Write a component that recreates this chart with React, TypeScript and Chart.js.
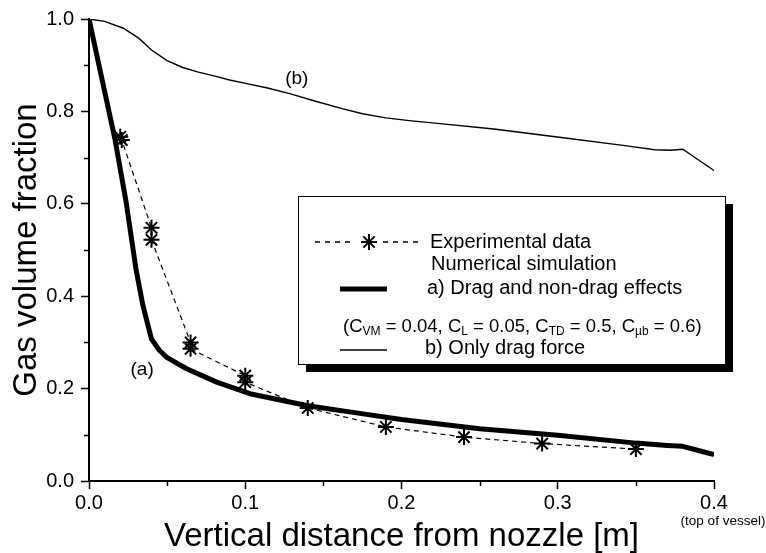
import React, { useEffect, useRef } from "react";
import { Chart, registerables } from "chart.js";

Chart.register(...registerables);

// ---- Data ----
const xTicks = [0, 0.1, 0.2, 0.3, 0.4];
const xTickLabels = ["0.0", "0.1", "0.2", "0.3", "0.4"];
const xMinorTicks = [0.05, 0.15, 0.25, 0.35];
const yTicks = [0, 0.2, 0.4, 0.6, 0.8, 1.0];
const yTickLabels = ["0.0", "0.2", "0.4", "0.6", "0.8", "1.0"];
const yMinorTicks = [0.1, 0.3, 0.5, 0.7, 0.9];

// (a) Drag and non-drag effects (thick line)
const xA = [0, 0.0083, 0.0166, 0.0237, 0.030, 0.0345, 0.040, 0.045, 0.050, 0.0625, 0.0817, 0.103, 0.12, 0.14, 0.17, 0.20, 0.25, 0.30, 0.35, 0.37, 0.38, 0.39, 0.40];
const yA = [1.0, 0.87, 0.74, 0.605, 0.46, 0.38, 0.307, 0.283, 0.267, 0.243, 0.214, 0.189, 0.177, 0.163, 0.148, 0.133, 0.113, 0.099, 0.082, 0.077, 0.075, 0.066, 0.057];

// (b) Only drag force (thin line)
const xB = [0, 0.01, 0.022, 0.032, 0.040, 0.05, 0.06, 0.07, 0.08, 0.09, 0.101, 0.115, 0.129, 0.145, 0.162, 0.175, 0.19, 0.205, 0.223, 0.259, 0.301, 0.343, 0.362, 0.372, 0.38, 0.40];
const yB = [1.0, 0.995, 0.98, 0.958, 0.933, 0.91, 0.895, 0.885, 0.877, 0.868, 0.86, 0.85, 0.838, 0.822, 0.806, 0.795, 0.786, 0.78, 0.774, 0.762, 0.744, 0.726, 0.717, 0.716, 0.718, 0.672];

// Experimental data
const xExp = [0.02, 0.021, 0.04, 0.04, 0.065, 0.065, 0.1, 0.1, 0.14, 0.19, 0.24, 0.29, 0.35];
const yExp = [0.745, 0.738, 0.548, 0.522, 0.3, 0.286, 0.228, 0.214, 0.158, 0.117, 0.095, 0.081, 0.069];

const xTitle = "Vertical distance from nozzle [m]";
const yTitle = "Gas volume fraction";
const xNote = "(top of vessel)";
const FONT = '"Liberation Sans", Arial, Helvetica, sans-serif';

const toPts = (xs: number[], ys: number[]) => xs.map((x, i) => ({ x, y: ys[i] }));

function drawStar(ctx: CanvasRenderingContext2D, x: number, y: number, r: number, lw: number) {
  ctx.save();
  ctx.strokeStyle = "#000";
  ctx.lineWidth = lw;
  ctx.setLineDash([]);
  ctx.beginPath();
  for (let k = 0; k < 4; k++) {
    const a = (k * Math.PI) / 4;
    ctx.moveTo(x - r * Math.cos(a), y - r * Math.sin(a));
    ctx.lineTo(x + r * Math.cos(a), y + r * Math.sin(a));
  }
  ctx.stroke();
  ctx.restore();
}

const decorPlugin = {
  id: "decor",
  afterDraw(chart: any) {
    const ctx: CanvasRenderingContext2D = chart.ctx;
    const xs = chart.scales.x;
    const ys = chart.scales.y;
    const ca = chart.chartArea;
    ctx.save();
    // minor ticks
    ctx.strokeStyle = "#000";
    ctx.lineWidth = 1.5;
    ctx.beginPath();
    xMinorTicks.forEach((v) => {
      const px = Math.round(xs.getPixelForValue(v)) + 0.5;
      ctx.moveTo(px, ca.bottom);
      ctx.lineTo(px, ca.bottom + 5);
    });
    yMinorTicks.forEach((v) => {
      const py = Math.round(ys.getPixelForValue(v)) + 0.5;
      ctx.moveTo(ca.left, py);
      ctx.lineTo(ca.left - 5, py);
    });
    ctx.stroke();

    // note under last x tick
    ctx.fillStyle = "#000";
    ctx.font = `13.5px ${FONT}`;
    ctx.textAlign = "center";
    ctx.textBaseline = "middle";
    ctx.fillText(xNote, xs.getPixelForValue(0.4) + 9, 521);

    // curve annotations
    ctx.font = `19px ${FONT}`;
    ctx.fillText("(a)", xs.getPixelForValue(0.034), ys.getPixelForValue(0.24));
    ctx.fillText("(b)", xs.getPixelForValue(0.133), ys.getPixelForValue(0.87));

    // legend box with shadow
    const bx = 298, by = 196, bw = 427, bh = 168, sh = 8;
    ctx.fillStyle = "#000";
    ctx.fillRect(bx + sh, by + sh, bw, bh);
    ctx.fillStyle = "#fff";
    ctx.fillRect(bx, by, bw, bh);
    ctx.strokeStyle = "#000";
    ctx.lineWidth = 1;
    ctx.strokeRect(bx + 0.5, by + 0.5, bw, bh);

    ctx.fillStyle = "#000";
    ctx.textAlign = "left";
    ctx.textBaseline = "middle";
    ctx.font = `20px ${FONT}`;

    // row 1: experimental
    const r1 = 242;
    ctx.lineWidth = 1.3;
    ctx.setLineDash([5, 5]);
    ctx.beginPath();
    ctx.moveTo(315, r1);
    ctx.lineTo(355, r1);
    ctx.moveTo(383, r1);
    ctx.lineTo(420, r1);
    ctx.stroke();
    ctx.setLineDash([]);
    drawStar(ctx, 369, r1, 8, 2);
    ctx.fillText("Experimental data", 430, r1);

    // row 2
    ctx.fillText("Numerical simulation", 431, 264);

    // row 3: thick
    ctx.lineWidth = 5;
    ctx.beginPath();
    ctx.moveTo(340, 289);
    ctx.lineTo(387, 289);
    ctx.stroke();
    ctx.fillText("a) Drag and non-drag effects", 427, 288);

    // row 4: coefficients with subscripts
    const parts: [string, boolean][] = [
      ["(C", false], ["VM", true], [" = 0.04, C", false], ["L", true],
      [" = 0.05, C", false], ["TD", true], [" = 0.5, C", false], ["\u00b5b", true], [" = 0.6)", false],
    ];
    let cx = 343;
    const r4 = 327;
    parts.forEach(([t, sub]) => {
      ctx.font = sub ? `12px ${FONT}` : `18.5px ${FONT}`;
      ctx.fillText(t, cx, sub ? r4 + 5 : r4);
      cx += ctx.measureText(t).width;
    });

    // row 5: thin
    ctx.font = `20px ${FONT}`;
    ctx.lineWidth = 1.3;
    ctx.beginPath();
    ctx.moveTo(340, 350);
    ctx.lineTo(387, 350);
    ctx.stroke();
    ctx.fillText("b) Only drag force", 425, 348);

    ctx.restore();
  },
};

export default function App() {
  const ref = useRef<HTMLCanvasElement | null>(null);
  useEffect(() => {
    if (!ref.current) return;
    const chart = new Chart(ref.current, {
      type: "scatter",
      data: {
        datasets: [
          {
            label: "a) Drag and non-drag effects",
            data: toPts(xA, yA),
            showLine: true,
            borderColor: "#000",
            borderWidth: 5,
            pointRadius: 0,
            tension: 0,
            borderJoinStyle: "round",
          } as any,
          {
            label: "b) Only drag force",
            data: toPts(xB, yB),
            showLine: true,
            borderColor: "#000",
            borderWidth: 1.4,
            pointRadius: 0,
            tension: 0,
          } as any,
          {
            label: "Experimental data",
            data: toPts(xExp, yExp),
            showLine: true,
            borderColor: "#000",
            borderWidth: 1.2,
            borderDash: [5, 4],
            pointStyle: "star",
            pointRadius: 8,
            pointBorderWidth: 2,
            pointBorderColor: "#000",
            pointBackgroundColor: "#000",
            tension: 0,
          } as any,
        ],
      },
      options: {
        animation: false,
        responsive: false,
        maintainAspectRatio: false,
        layout: { padding: { left: 0, top: 17, right: 52, bottom: 0 } },
        plugins: { legend: { display: false }, tooltip: { enabled: false } },
        scales: {
          x: {
            type: "linear",
            min: 0,
            max: 0.4,
            afterBuildTicks: (s: any) => {
              s.ticks = xTicks.map((v) => ({ value: v }));
            },
            afterFit: (s: any) => {
              s.height = 72;
            },
            ticks: {
              callback: (_v: any, i: number) => xTickLabels[i],
              color: "#000",
              font: { family: FONT, size: 20 },
              padding: 2,
              maxRotation: 0,
              autoSkip: false,
            },
            grid: {
              display: true,
              drawOnChartArea: false,
              drawTicks: true,
              tickLength: 8,
              tickWidth: 1.5,
              tickColor: "#000",
              color: "#000",
            },
            border: { display: true, color: "#000", width: 2 },
            title: {
              display: true,
              text: xTitle,
              color: "#000",
              font: { family: FONT, size: 33, lineHeight: 1 },
              padding: { top: 0, bottom: 0 },
            },
          },
          y: {
            type: "linear",
            min: 0,
            max: 1.0,
            afterBuildTicks: (s: any) => {
              s.ticks = yTicks.map((v) => ({ value: v }));
            },
            afterFit: (s: any) => {
              s.width = 89;
            },
            ticks: {
              callback: (_v: any, i: number) => yTickLabels[i],
              color: "#000",
              font: { family: FONT, size: 20 },
              padding: 7,
              autoSkip: false,
            },
            grid: {
              display: true,
              drawOnChartArea: false,
              drawTicks: true,
              tickLength: 8,
              tickWidth: 1.5,
              tickColor: "#000",
              color: "#000",
            },
            border: { display: true, color: "#000", width: 2 },
            title: {
              display: true,
              text: yTitle,
              color: "#000",
              font: { family: FONT, size: 33, lineHeight: 1 },
              padding: { top: 10, bottom: 0 },
            },
          },
        },
      },
      plugins: [decorPlugin],
    });
    return () => chart.destroy();
  }, []);
  return (
    <div style={{ position: "fixed", left: 0, top: 0, width: 766, height: 553, background: "#fff" }}>
      <canvas ref={ref} width={766} height={553} style={{ width: 766, height: 553, display: "block" }} />
    </div>
  );
}
